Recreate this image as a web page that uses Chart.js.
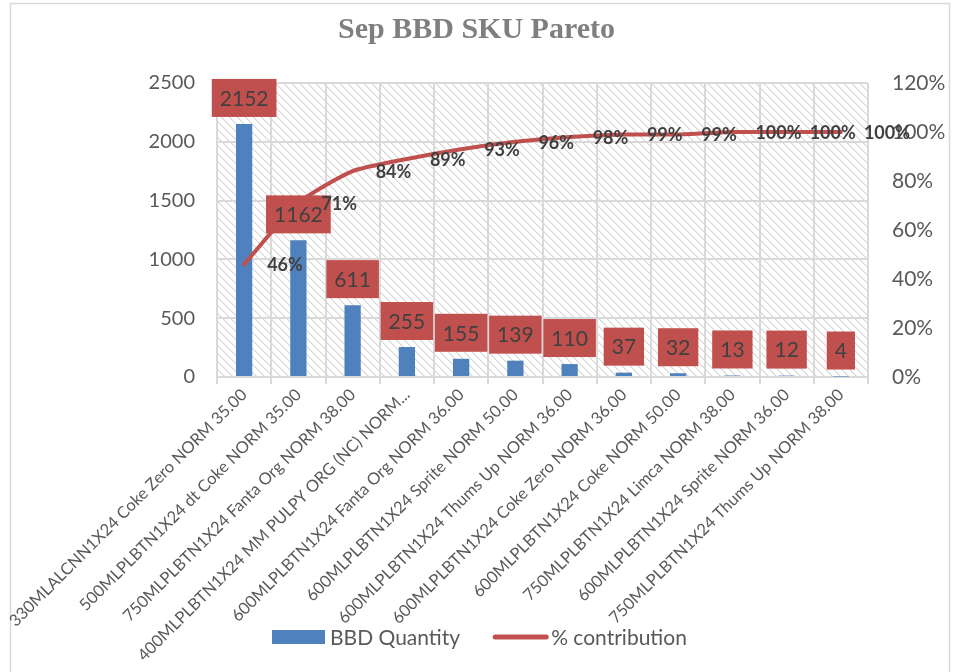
<!DOCTYPE html>
<html>
<head>
<meta charset="utf-8">
<title>Sep BBD SKU Pareto</title>
<script src="https://cdn.jsdelivr.net/npm/chart.js@4.4.1/dist/chart.umd.min.js"></script>
<style>
	html, body { margin:0; padding:0; background:#fff; }
	#wrap { width:953px; height:672px; }
</style>
</head>
<body>
<div id="wrap"><canvas id="myChart" width="953" height="672"></canvas></div>
<script>
// SKU names as they show on the axis (4th one is cut off in the source)
let skuNames = [
	'330MLALCNN1X24 Coke Zero NORM 35.00',
	'500MLPLBTN1X24 dt Coke NORM 35.00',
	'750MLPLBTN1X24 Fanta Org NORM 38.00',
	'400MLPLBTN1X24 MM PULPY ORG (NC) NORM...',
	'600MLPLBTN1X24 Fanta Org NORM 36.00',
	'600MLPLBTN1X24 Sprite NORM 50.00',
	'600MLPLBTN1X24 Thums Up NORM 36.00',
	'600MLPLBTN1X24 Coke Zero NORM 36.00',
	'600MLPLBTN1X24 Coke NORM 50.00',
	'750MLPLBTN1X24 Limca NORM 38.00',
	'600MLPLBTN1X24 Sprite NORM 36.00',
	'750MLPLBTN1X24 Thums Up NORM 38.00'
];
let bbdQuantity = [2152, 1162, 611, 255, 155, 139, 110, 37, 32, 13, 12, 4];
let contribution = [46, 71, 84, 89, 93, 96, 98, 99, 99, 100, 100, 100];
let qtyTicks = [0, 500, 1000, 1500, 2000, 2500];
let pctTicks = [0, 20, 40, 60, 80, 100, 120];

const RED = '#c0504d';
const BLUE = '#4f81bd';
const GRID = '#d9d9d9';
const TEXT = '#595959';

function makeTile() {
	let c = document.createElement('canvas');
	c.width = 8;
	c.height = 8;
	let t = c.getContext('2d');
	t.fillStyle = '#fff';
	t.fillRect(0, 0, 8, 8);
	for(let i = 0; i < 8; i++) {
		t.fillStyle = '#d4d4d4';
		t.fillRect(i, i, 1, 1);
		t.fillStyle = '#ececec';
		t.fillRect((i + 1) % 8, i, 1, 1);
	}
	return c;
}

// white page, outer frame and hatched plot area
const backPlugin = {
	id: 'back',
	beforeDraw(chart) {
		let ctx = chart.ctx;
		let a = chart.chartArea;
		ctx.save();
		ctx.fillStyle = '#fff';
		ctx.fillRect(0, 0, chart.width, chart.height);
		ctx.strokeStyle = GRID;
		ctx.lineWidth = 1.5;
		ctx.strokeRect(10.5, 3.5, 939, 720);
		ctx.fillStyle = ctx.createPattern(makeTile(), 'repeat');
		ctx.fillRect(a.left, a.top, a.right - a.left, a.bottom - a.top);
		ctx.restore();
	}
};

// red boxes over the bars, bold % next to the line points
const labelPlugin = {
	id: 'labels',
	afterDatasetsDraw(chart) {
		let ctx = chart.ctx;
		ctx.save();
		ctx.textAlign = 'center';
		ctx.textBaseline = 'middle';
		ctx.font = '21px Lato';
		chart.getDatasetMeta(0).data.forEach((bar, i) => {
			let txt = String(bbdQuantity[i]);
			let w = ctx.measureText(txt).width + 16;
			let h = 38;
			let bottom = bar.y - 7;
			ctx.fillStyle = RED;
			ctx.fillRect(bar.x - w / 2, bottom - h, w, h);
			ctx.fillStyle = '#404040';
			ctx.fillText(txt, bar.x, bottom - h / 2 + 1);
		});
		ctx.font = 'bold 18px Lato';
		ctx.textAlign = 'left';
		ctx.fillStyle = '#404040';
		chart.getDatasetMeta(1).data.forEach((p, i) => {
			ctx.fillText(contribution[i] + '%', p.x + 23, p.y + 1);
		});
		ctx.restore();
	}
};

// legend sits beside the long rotated labels, so it is drawn by hand
const legendPlugin = {
	id: 'legendBox',
	afterDraw(chart) {
		let ctx = chart.ctx;
		let y = 637;
		let x = 272;
		ctx.save();
		ctx.font = '21px Lato';
		ctx.textAlign = 'left';
		ctx.textBaseline = 'middle';
		chart.data.datasets.forEach(ds => {
			if(ds.type === 'line') {
				ctx.strokeStyle = ds.borderColor;
				ctx.lineWidth = 5;
				ctx.lineCap = 'round';
				ctx.beginPath();
				ctx.moveTo(x + 2, y);
				ctx.lineTo(x + 53, y);
				ctx.stroke();
			} else {
				ctx.fillStyle = ds.backgroundColor;
				ctx.fillRect(x, y - 7, 53, 14);
			}
			ctx.fillStyle = TEXT;
			ctx.fillText(ds.label, x + 58, y + 1);
			x += 58 + ctx.measureText(ds.label).width + 33;
		});
		ctx.restore();
	}
};

document.addEventListener('DOMContentLoaded', init, false);

function init() {
	const ctx = document.getElementById('myChart');

	new Chart(ctx, {
		type: 'bar',
		data: {
			labels: skuNames,
			datasets: [
				{
					label: 'BBD Quantity',
					data: bbdQuantity,
					backgroundColor: BLUE,
					borderWidth: 0,
					categoryPercentage: 1,
					barPercentage: 0.3,
					yAxisID: 'y',
					order: 2
				},
				{
					type: 'line',
					label: '% contribution',
					data: contribution,
					borderColor: RED,
					backgroundColor: RED,
					borderWidth: 4,
					borderCapStyle: 'round',
					pointRadius: 0,
					tension: 0.2,
					yAxisID: 'y1',
					order: 1
				}
			]
		},
		options: {
			responsive: false,
			animation: false,
			devicePixelRatio: 1,
			layout: { padding: { top: 3, left: 0, right: 0, bottom: 0 } },
			plugins: {
				tooltip: { enabled: false },
				legend: { display: false },
				title: {
					display: true,
					text: 'Sep BBD SKU Pareto',
					color: '#7f7f7f',
					font: { family: 'Liberation Serif', size: 30, weight: 'bold' },
					padding: { top: 9, bottom: 35 }
				}
			},
			scales: {
				x: {
					grid: { color: GRID, lineWidth: 2, tickLength: 7, offset: true },
					border: { color: GRID, width: 2 },
					ticks: {
						autoSkip: false,
						maxRotation: 45,
						minRotation: 45,
						padding: 1,
						color: TEXT,
						font: { family: 'Lato', size: 16.5 }
					},
					afterFit(scale) { scale.height = 295; }
				},
				y: {
					position: 'left',
					min: 0,
					max: 2500,
					afterBuildTicks(scale) { scale.ticks = qtyTicks.map(v => ({ value: v })); },
					grid: { color: GRID, lineWidth: 2, drawTicks: false },
					border: { display: false },
					ticks: {
						padding: 22,
						color: TEXT,
						font: { family: 'Lato', size: 20 },
						callback: v => String(v)
					},
					afterFit(scale) { scale.width = 217; }
				},
				y1: {
					position: 'right',
					min: 0,
					max: 120,
					afterBuildTicks(scale) { scale.ticks = pctTicks.map(v => ({ value: v })); },
					grid: { display: false, drawTicks: false },
					border: { display: false },
					ticks: {
						padding: 24,
						color: TEXT,
						font: { family: 'Lato', size: 21 },
						callback: v => v + '%'
					},
					afterFit(scale) { scale.width = 85; }
				}
			}
		},
		plugins: [backPlugin, labelPlugin, legendPlugin]
	});
}
</script>
</body>
</html>
